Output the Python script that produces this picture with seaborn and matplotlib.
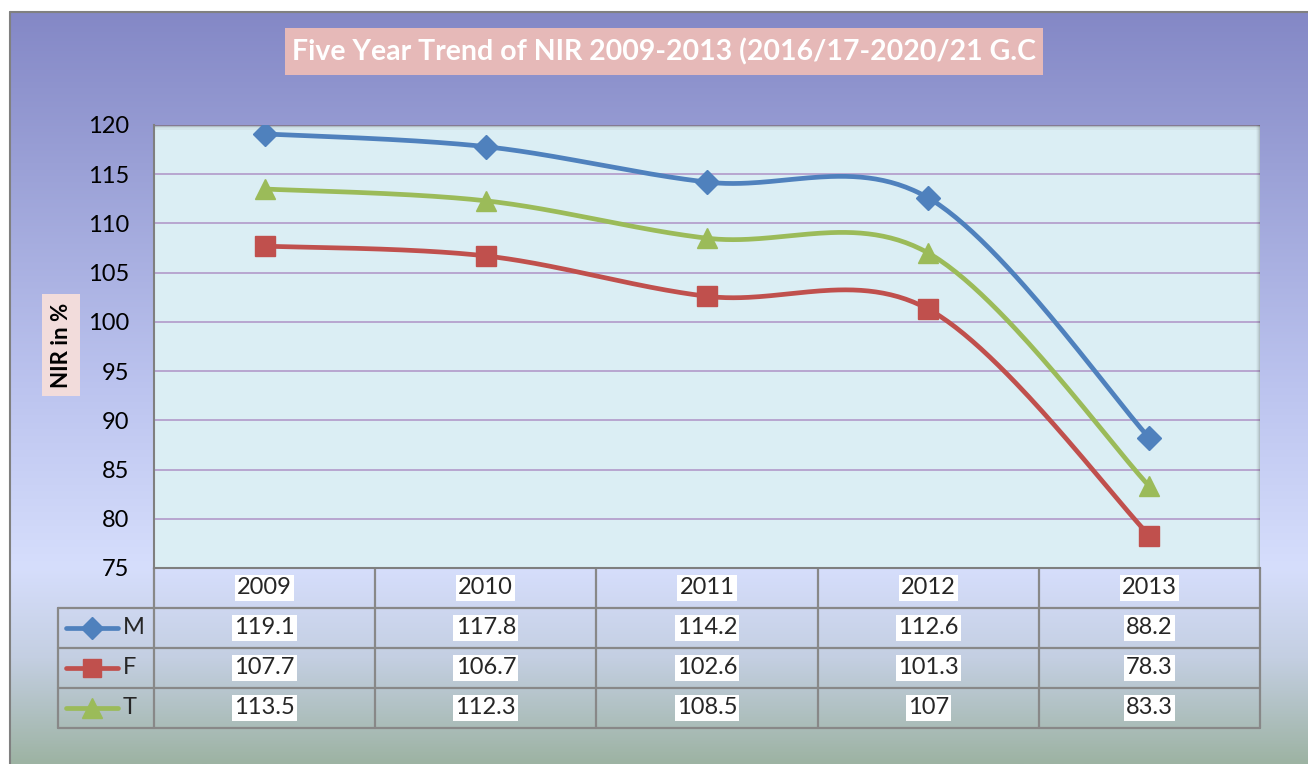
import numpy as np
import pandas as pd
import matplotlib
matplotlib.use("Agg")
import matplotlib.pyplot as plt
import seaborn as sns
from matplotlib.colors import LinearSegmentedColormap

# ---- data ----
years = ["2009", "2010", "2011", "2012", "2013"]
male = [119.1, 117.8, 114.2, 112.6, 88.2]
female = [107.7, 106.7, 102.6, 101.3, 78.3]
total = [113.5, 112.3, 108.5, 107, 83.3]
series_names = ["M", "F", "T"]
table_text = {"M": ["119.1", "117.8", "114.2", "112.6", "88.2"],
              "F": ["107.7", "106.7", "102.6", "101.3", "78.3"],
              "T": ["113.5", "112.3", "108.5", "107", "83.3"]}
title = "Five Year Trend of NIR 2009-2013 (2016/17-2020/21 G.C"
ylabel = "NIR in %"

colors = {"M": "#4f81bd", "F": "#c0504d", "T": "#9bbb59"}
markers = {"M": "D", "F": "s", "T": "^"}
msizes = {"M": 12, "F": 14, "T": 15}

sns.set_theme(style="white")
plt.rcParams["font.family"] = ["Lato", "DejaVu Sans"]

W, H = 1308, 764
fig = plt.figure(figsize=(W / 100, H / 100), dpi=100)
fig.patch.set_facecolor("white")

def fx(px):
    return px / W

def fy(py):
    return 1 - py / H

# ---- background gradient ----
ax_bg = fig.add_axes([fx(10), 0, fx(W - 10), (H - 12) / H])
ax_bg.set_zorder(0)
cmap = LinearSegmentedColormap.from_list(
    "bg",
    [(0.0, "#8488c6"), (0.2, "#9aa0d6"), (0.5, "#bcc4ef"), (0.74, "#d6defc"),
     (0.86, "#c4cfe2"), (1.0, "#9db3a3")])
grad = np.linspace(0, 1, 256).reshape(-1, 1)
ax_bg.imshow(grad, aspect="auto", cmap=cmap, extent=[0, 1, 0, 1], origin="upper")
ax_bg.set_xlim(0, 1)
ax_bg.set_ylim(0, 1)
ax_bg.axis("off")

# ---- overlay for table / title ----
ov = fig.add_axes([0, 0, 1, 1])
ov.set_zorder(1)
ov.set_xlim(0, W)
ov.set_ylim(H, 0)
ov.axis("off")
ov.plot([10, 10], [H, 12], color="#808080", lw=1.5)
ov.plot([10, W], [12, 12], color="#808080", lw=1.5)

# title
ov.add_patch(plt.Rectangle((285, 28), 758, 47, facecolor="#e6b9b8", edgecolor="none"))
ov.text(664, 52, title, color="white", fontsize=20.5, fontweight="bold",
        ha="center", va="center")

# y label
ov.text(61, 345, ylabel, rotation=90, fontsize=16, fontweight="bold",
        ha="center", va="center", color="black",
        bbox=dict(facecolor="#f2dcdb", edgecolor="none", pad=6))

# ---- main axes ----
L, R, T_, B = 154, 1260, 125, 568
ax = fig.add_axes([fx(L), fy(B), fx(R - L), (B - T_) / H])
ax.set_zorder(2)
ax.set_facecolor("#dbeef4")

def smooth(y):
    y = np.asarray(y, float)
    n = len(y)
    x = np.arange(n, dtype=float)
    P = np.column_stack([x, y])
    ext = np.vstack([P[0], P, P[-1]])
    pts = []
    t = np.linspace(0, 1, 60)[:, None]
    for i in range(n - 1):
        p0, p1, p2, p3 = ext[i], ext[i + 1], ext[i + 2], ext[i + 3]
        c1 = p1 + (p2 - p0) / 6
        c2 = p2 - (p3 - p1) / 6
        seg = ((1 - t) ** 3) * p1 + 3 * ((1 - t) ** 2) * t * c1 + 3 * (1 - t) * t ** 2 * c2 + t ** 3 * p2
        pts.append(seg)
    return np.vstack(pts)

data = {"M": male, "F": female, "T": total}
for name in series_names:
    s = smooth(data[name])
    dfc = pd.DataFrame({"x": s[:, 0], "y": s[:, 1]})
    sns.lineplot(data=dfc, x="x", y="y", ax=ax, color=colors[name], lw=3.4,
                 sort=False, estimator=None, zorder=3)
    ax.plot(range(len(years)), data[name], linestyle="none", marker=markers[name],
            markersize=msizes[name], color=colors[name], zorder=4)

ax.set_xlim(-0.5, len(years) - 0.5)
ax.set_ylim(75, 120)
ax.set_yticks(np.arange(75, 121, 5))
ax.yaxis.grid(True, color="#b8a6d0", lw=1.4)
ax.xaxis.grid(False)
ax.set_xticks([])
ax.set_xlabel("")
ax.set_ylabel("")
ax.tick_params(axis="y", length=0, pad=18, labelsize=17, labelcolor="black")
for side in ["top", "right"]:
    ax.spines[side].set_visible(False)
ax.spines["left"].set_color("#7f7f7f")
ax.spines["left"].set_linewidth(1.5)
ax.spines["bottom"].set_color("#7f7f7f")
ax.spines["bottom"].set_linewidth(1.5)
# soft shadow along top and right edges of plot area
for k, a in enumerate([0.35, 0.22, 0.12, 0.06]):
    ax.axhline(120 - k * 0.12, color="#404040", alpha=a, lw=1.2, zorder=2)
    ax.axvline(4.5 - k * 0.0045, color="#404040", alpha=a * 0.6, lw=1.2, zorder=2)

# ---- data table ----
fig.canvas.draw()
col_centers = [ax.transData.transform((i, 75))[0] for i in range(len(years))]
col_w = col_centers[1] - col_centers[0]
gc = "#888888"
lw = 1.6
rows_y = [568, 608, 648, 688, 728]
for i in range(len(years) + 1):
    xb = col_centers[0] - col_w / 2 + i * col_w
    ov.plot([xb, xb], [568, 728], color=gc, lw=lw)
ov.plot([58, 58], [608, 728], color=gc, lw=lw)
for yb in rows_y[1:]:
    ov.plot([58, R], [yb, yb], color=gc, lw=lw)

for i, yr in enumerate(years):
    ov.text(col_centers[i], 588, yr, fontsize=17, ha="center", va="center",
            bbox=dict(facecolor="white", edgecolor="none", pad=1.5))
for r, name in enumerate(series_names):
    yc = 628 + 40 * r
    ov.plot([66, 118], [yc, yc], color=colors[name], lw=3.4, solid_capstyle="round")
    ov.plot([92], [yc], marker=markers[name], markersize=msizes[name] - 1,
            color=colors[name], linestyle="none")
    ov.text(123, yc, name, fontsize=17, ha="left", va="center")
    for i in range(len(years)):
        ov.text(col_centers[i], yc, table_text[name][i], fontsize=17,
                ha="center", va="center",
                bbox=dict(facecolor="white", edgecolor="none", pad=1.5))

fig.savefig("out.png", dpi=100)
